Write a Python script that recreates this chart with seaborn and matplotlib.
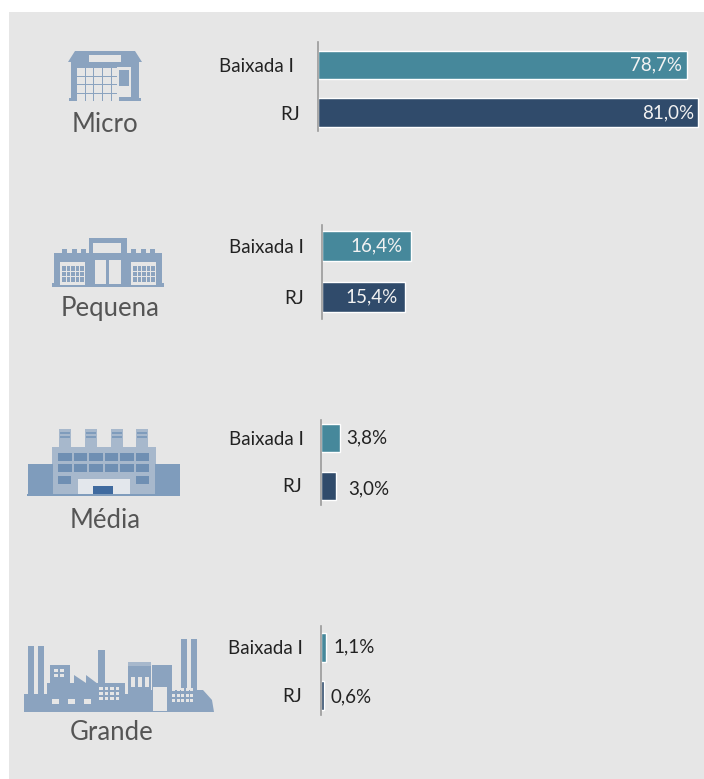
import matplotlib
matplotlib.use("Agg")
import matplotlib.pyplot as plt
from matplotlib.patches import Rectangle, Polygon
import seaborn as sns
import pandas as pd

W, H = 704, 779
sizes = ["Micro", "Pequena", "Média", "Grande"]
regions = ["Baixada I", "RJ"]
baixada = [78.7, 16.4, 3.8, 1.1]
rj = [81.0, 15.4, 3.0, 0.6]
labels_baixada = ["78,7%", "16,4%", "3,8%", "1,1%"]
labels_rj = ["81,0%", "15,4%", "3,0%", "0,6%"]
TEAL, NAVY = "#46889b", "#304b6b"
ICON = "#8ba3bf"
BG = "#e6e6e6"

sns.set_theme(style="white")
plt.rcParams["font.family"] = ["Lato", "DejaVu Sans"]

fig = plt.figure(figsize=(W / 100, H / 100), dpi=100, facecolor="white")

bgax = fig.add_axes([0, 0, 1, 1], zorder=0)
bgax.set_xlim(0, W)
bgax.set_ylim(H, 0)
bgax.axis("off")
bgax.add_patch(Rectangle((9, 12), W - 9, H - 12, fc=BG, ec="none"))


def R(x, y, w, h, c=ICON):
    bgax.add_patch(Rectangle((x, y), w, h, fc=c, ec="none"))


def P(pts, c=ICON):
    bgax.add_patch(Polygon(pts, closed=True, fc=c, ec="none"))


def grid(x, y, nx, ny, w, h, gx, gy, c=BG):
    for i in range(nx):
        for j in range(ny):
            R(x + i * (w + gx), y + j * (h + gy), w, h, c)


def icon_micro():
    P([(68, 62), (75, 51), (135, 51), (142, 62), (139, 62), (139, 98), (71, 98), (71, 62)])
    R(69, 98, 72, 3)
    R(89, 55, 32, 7, BG)
    grid(77, 68, 5, 4, 7.5, 7.5, 1.2, 1.2)
    R(117, 67, 14, 30, BG)
    R(119, 70, 10, 16, ICON)
    R(119, 88, 10, 8, BG)


def icon_pequena():
    R(54, 253, 108, 30)
    R(52, 283, 112, 4)
    R(89, 238, 38, 16)
    R(93, 243, 28, 10, BG)
    R(91, 254, 34, 10)
    for x in (62, 72, 81, 131, 141, 150):
        R(x, 249, 5, 5)
    R(60, 262, 25, 23, BG)
    grid(62, 266, 5, 3, 3.6, 4.5, 1, 1, ICON)
    R(131, 262, 25, 23, BG)
    grid(133, 266, 5, 3, 3.6, 4.5, 1, 1, ICON)
    R(95, 260, 11, 24, BG)
    R(109, 260, 12, 24, BG)


def icon_media():
    LT, DK = "#a7b8cc", "#7f9cbc"
    for x in (59, 85, 111, 136):
        R(x, 429, 12, 19, LT)
        R(x + 1, 432, 10, 2, DK)
        R(x + 1, 436, 10, 2, DK)
    R(52, 447, 104, 48, LT)
    R(28, 464, 25, 31, DK)
    R(155, 464, 25, 31, DK)
    grid(58, 453, 6, 2, 13.5, 8, 2, 3, "#6f8fb3")
    R(58, 476, 13, 8, "#6f8fb3")
    R(136, 476, 13, 8, "#6f8fb3")
    R(78, 479, 52, 16, "#e3e7ec")
    R(93, 486, 20, 9, "#3f6a9f")
    R(27, 494, 153, 2, "#7f9cbc")


def icon_grande():
    for x, w, y in ((28, 6, 646), (38, 6, 646), (98, 7, 650), (181, 6, 639), (191, 6, 639)):
        R(x, y, w, 60)
    R(24, 694, 110, 18)
    R(147, 690, 56, 22)
    R(50, 665, 20, 30)
    R(47, 683, 78, 12)
    P([(74, 684), (74, 675), (86, 683), (86, 675), (98, 684)])
    R(128, 665, 23, 47)
    R(128, 662, 23, 4, "#a7b8cc")
    R(152, 665, 20, 30)
    P([(203, 690), (212, 700), (214, 712), (203, 712)])
    R(134, 706, 17, 6, ICON)
    grid(54, 669, 2, 2, 4, 3, 2, 2)
    grid(52, 699, 3, 1, 7, 5, 9, 0)
    grid(99, 687, 4, 3, 3.5, 3, 2, 2)
    grid(131, 677, 3, 1, 4, 10, 3, 0)
    R(153, 687, 14, 24, BG)
    grid(172, 688, 5, 3, 3, 3, 1.6, 2.5)


for f in (icon_micro, icon_pequena, icon_media, icon_grande):
    f()

# axes box per group: x0 of the baseline, top, bottom of the axis line, bar centres, px per unit
layout = [
    dict(x0=317.5, top=42, bot=131, c0=65, c1=112.5, ppu=4.70, h=28.5),
    dict(x0=322, top=225, bot=319, c0=246, c1=297, ppu=5.42, h=30),
    dict(x0=320.5, top=420, bot=505, c0=438, c1=485.5, ppu=5.0, h=28),
    dict(x0=320.5, top=626, bot=715, c0=647, c1=695.5, ppu=5.2, h=29),
]
pads = [(24, 18), (18, 18), (17, 18), (18, 18)]
cat_xy = [(105, 124), (110, 308), (105, 521), (112, 733)]
# label anchor: (inside?, x offset px, y offset px) for the two bars
value_pos = [
    [("in", 5, 0), ("in", 4, 0)],
    [("in", 8, 0), ("in", 8, 0)],
    [("out", 7, 0), ("out", 13, 3)],
    [("out", 7, 0), ("out", 7, 1)],
]

for i, size in enumerate(sizes):
    lay = layout[i]
    spacing = lay["c1"] - lay["c0"]
    width_units = (W - lay["x0"]) / lay["ppu"]
    ax = fig.add_axes([lay["x0"] / W, 1 - lay["bot"] / H, (W - lay["x0"]) / W, (lay["bot"] - lay["top"]) / H],
                      zorder=2)
    ax.patch.set_alpha(0)
    df = pd.DataFrame({"region": regions, "value": [baixada[i], rj[i]]})
    sns.barplot(data=df, y="region", x="value", hue="region", palette=[TEAL, NAVY], dodge=False,
                legend=False, width=lay["h"] / spacing, ax=ax, saturation=1)
    ax.set_xlim(0, width_units)
    ax.set_ylim((lay["bot"] - lay["c0"]) / spacing, (lay["top"] - lay["c0"]) / spacing)
    ax.set_xlabel("")
    ax.set_ylabel("")
    ax.set_xticks([])
    for s in ("top", "right", "bottom"):
        ax.spines[s].set_visible(False)
    ax.spines["left"].set_color("#9a9a9a")
    ax.spines["left"].set_linewidth(1.2)
    ax.tick_params(axis="y", length=0, labelsize=13.5, labelcolor="#222222")
    for t, pad in zip(ax.yaxis.get_major_ticks(), pads[i]):
        t.set_pad(pad * 0.72)
    vals = [baixada[i], rj[i]]
    txts = [labels_baixada[i], labels_rj[i]]
    for j in range(2):
        kind, dx, dy = value_pos[i][j]
        if kind == "in":
            ax.annotate(txts[j], (vals[j], j), xytext=(-dx * 0.72, -dy * 0.72), textcoords="offset points",
                        ha="right", va="center", color="#f2f2f2", fontsize=13.5)
        else:
            ax.annotate(txts[j], (vals[j], j), xytext=(dx * 0.72, -dy * 0.72), textcoords="offset points",
                        ha="left", va="center", color="#222222", fontsize=13.5)
    bgax.text(cat_xy[i][0], cat_xy[i][1], size, ha="center", va="center", fontsize=18.5, color="#555555")

fig.savefig("out.png", dpi=100)
